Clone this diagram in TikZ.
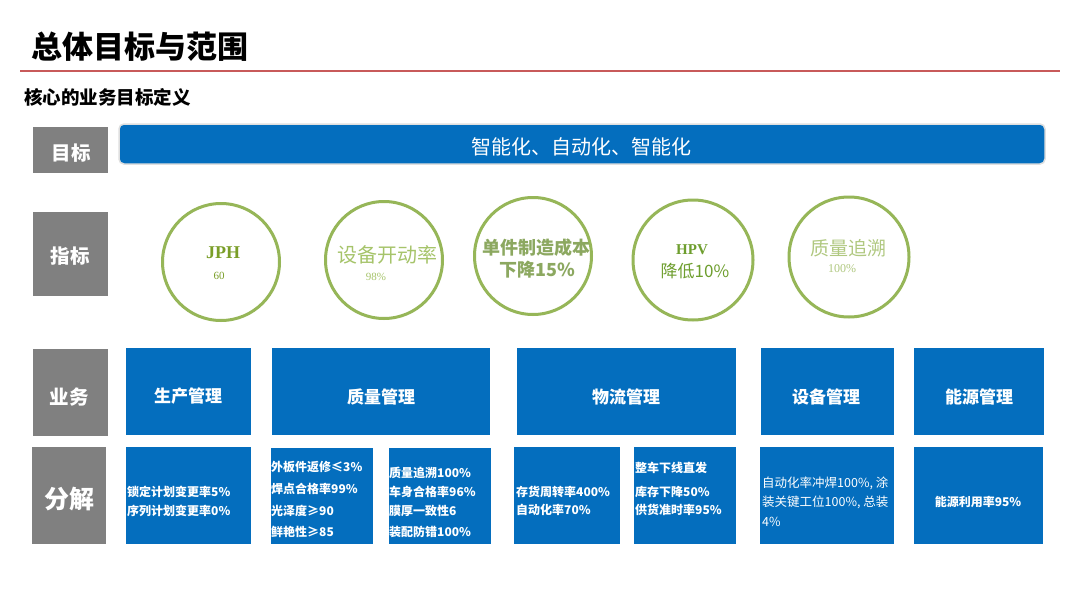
\documentclass[tikz,border=0pt]{standalone}
\usepackage{fontspec}
\setmainfont{Noto Sans CJK SC}
\newfontfamily\serifL{Liberation Serif}
\newcommand\fsz[1]{\fontsize{#1}{#1}\selectfont}
\definecolor{mblue}{RGB}{4,110,190}
\definecolor{mgray}{RGB}{128,128,128}
\definecolor{mred}{RGB}{200,90,90}
\definecolor{ring}{RGB}{150,182,88}
\definecolor{gA}{RGB}{122,158,40}
\definecolor{gB}{RGB}{166,196,106}
\definecolor{gC}{RGB}{140,168,96}
\definecolor{gD}{RGB}{110,158,46}
\definecolor{gE}{RGB}{176,200,128}
\tikzset{
  graybox/.style={fill=mgray, draw=none, inner sep=0},
  graytext/.style={inner sep=0, text=white, font=\bfseries\fsz{19.5}},
  bluebox/.style={fill=mblue, draw=none, inner sep=0},
  bluetext/.style={inner sep=0, text=white, font=\bfseries\fsz{17}},
  decbox/.style={fill=mblue, draw=none, inner sep=0},
  ringnode/.style={circle, draw=ring, line width=3pt, inner sep=0, minimum size=117pt},
  dtext/.style={anchor=west, inner sep=0, text=white, font=\bfseries\fsz{12}},
  redline/.style={draw=mred, line width=2pt},
}
\begin{document}
\begin{tikzpicture}[x=1pt,y=-1pt]
\useasboundingbox[fill=white] (0,0) rectangle (1080,608);

% title
\node[anchor=west, inner sep=0, font=\bfseries\fsz{31}] (title) at (31,47) {总体目标与范围};
\coordinate (l1) at (20,71);
\coordinate (l2) at (1060,71);
\draw[redline] (l1) -- (l2);
\node[anchor=west, inner sep=0, font=\bfseries\fsz{18.5}] (sub) at (24,97) {核心的业务目标定义};

% row labels
\node[graybox, minimum width=75pt, minimum height=46pt] (gMubiao) at (70.5,150) {};
\node[graybox, minimum width=75pt, minimum height=84pt] (gZhibiao) at (70.5,254) {};
\node[graybox, minimum width=75pt, minimum height=87pt] (gYewu) at (70.5,392.5) {};
\node[graybox, minimum width=74pt, minimum height=97pt] (gFenjie) at (69,495.5) {};
\node[graytext] (tMubiao) at (71,153) {目标};
\node[graytext] (tZhibiao) at (70,256) {指标};
\node[graytext] (tYewu) at (69,397) {业务};
\node[graytext, font=\bfseries\fsz{25}] (tFenjie) at (70,499) {分解};

% banner
\node[fill=mblue, draw=gray!25, line width=1.5pt, rounded corners=5pt, minimum width=926pt, minimum height=40pt, inner sep=0] (banner) at (582,144) {};
\node[inner sep=0, text=white, font=\fsz{20}] (bannertext) at (581,147) {智能化、自动化、智能化};

% circles
\node[ringnode] (c1) at (221,262) {};
\node[ringnode] (c2) at (384,260) {};
\node[ringnode] (c3) at (533,256) {};
\node[ringnode, minimum size=120pt] (c4) at (693,260) {};
\node[ringnode, minimum size=120pt] (c5) at (849,257) {};

\node[inner sep=0, text=gA, font=\serifL\bfseries\fsz{18}] (c1a) at (223,253) {JPH};
\node[inner sep=0, text=gA, font=\serifL\fsz{11}] (c1b) at (219,276) {60};
\node[inner sep=0, text=gB, font=\fsz{20}] (c2a) at (387,255) {设备开动率};
\node[inner sep=0, text=gB, font=\serifL\fsz{11}] (c2b) at (376,277) {98\%};
\node[inner sep=0, text=gC, font=\bfseries\fsz{18}] (c3a) at (536,248) {单件制造成本};
\node[inner sep=0, text=gC, font=\bfseries\fsz{18}] (c3b) at (537,270) {下降15\%};
\node[inner sep=0, text=gD, font=\serifL\bfseries\fsz{15}] (c4a) at (692,250) {HPV};
\node[inner sep=0, text=gD, font=\fsz{17}] (c4b) at (695,271) {降低10\%};
\node[inner sep=0, text=gE, font=\fsz{19}] (c5a) at (848,248) {质量追溯};
\node[inner sep=0, text=gE, font=\serifL\fsz{12}] (c5b) at (842,269) {100\%};

% business row
\node[bluebox, minimum width=125pt, minimum height=87pt] (bProd) at (188.5,391.5) {};
\node[bluebox, minimum width=218pt, minimum height=87pt] (bQual) at (381,391.5) {};
\node[bluebox, minimum width=219pt, minimum height=87pt] (bLog) at (626.5,391.5) {};
\node[bluebox, minimum width=133pt, minimum height=87pt] (bEq) at (827,391.5) {};
\node[bluebox, minimum width=130pt, minimum height=87pt] (bEn) at (979,391.5) {};
\node[bluetext] (tProd) at (188,396.5) {生产管理};
\node[bluetext] (tQual) at (381,396.5) {质量管理};
\node[bluetext] (tLog) at (626,396.5) {物流管理};
\node[bluetext] (tEq) at (826,396.5) {设备管理};
\node[bluetext] (tEn) at (979,396.5) {能源管理};

% decomposition row
\node[decbox, minimum width=125pt, minimum height=97pt] (dProd) at (188.5,495.5) {};
\node[decbox, minimum width=102pt, minimum height=96pt] (dQa) at (322,496) {};
\node[decbox, minimum width=102pt, minimum height=96pt] (dQb) at (440,496) {};
\node[decbox, minimum width=106pt, minimum height=97pt] (dLa) at (567,495.5) {};
\node[decbox, minimum width=102pt, minimum height=97pt] (dLb) at (685,495.5) {};
\node[decbox, minimum width=134pt, minimum height=97pt] (dEq) at (827,495.5) {};
\node[decbox, minimum width=129pt, minimum height=97pt] (dEn) at (978.5,495.5) {};

\node[dtext] (p1) at (127,492) {锁定计划变更率5\%};
\node[dtext] (p2) at (127,511) {序列计划变更率0\%};

\node[dtext] (qa1) at (271,467) {外板件返修≤3\%};
\node[dtext] (qa2) at (271,489) {焊点合格率99\%};
\node[dtext] (qa3) at (271,511) {光泽度≥90};
\node[dtext] (qa4) at (271,532) {鲜艳性≥85};

\node[dtext] (qb1) at (389,473) {质量追溯100\%};
\node[dtext] (qb2) at (389,492) {车身合格率96\%};
\node[dtext] (qb3) at (389,511) {膜厚一致性6};
\node[dtext] (qb4) at (389,532) {装配防错100\%};

\node[dtext] (la1) at (516,492) {存货周转率400\%};
\node[dtext] (la2) at (516,510) {自动化率70\%};

\node[dtext] (lb1) at (635,468) {整车下线直发};
\node[dtext] (lb2) at (635,492) {库存下降50\%};
\node[dtext] (lb3) at (635,510) {供货准时率95\%};

\node[dtext, font=\fsz{12.5}] (e1) at (762,483) {自动化率冲焊100\%, 涂};
\node[dtext, font=\fsz{12.5}] (e2) at (762,502) {装关键工位100\%, 总装};
\node[dtext, font=\fsz{12.5}] (e3) at (762,522) {4\%};

\node[inner sep=0, text=white, font=\bfseries\fsz{12}] (en1) at (978,502) {能源利用率95\%};
\end{tikzpicture}
\end{document}
